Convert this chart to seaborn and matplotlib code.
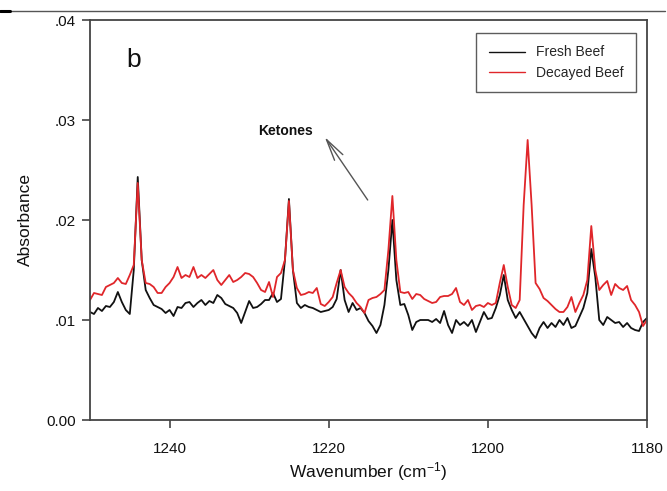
import numpy as np
import pandas as pd
import matplotlib
matplotlib.use("Agg")
import matplotlib.pyplot as plt
from matplotlib.lines import Line2D
import seaborn as sns

# ---- data ----
wavenumber = np.arange(1250.0, 1179.75, -0.5)

fresh_beef = [
    0.0108, 0.0106, 0.0112, 0.0109, 0.0114, 0.0113, 0.0118, 0.0128, 0.0118, 0.0110,
    0.0106, 0.0150, 0.0243, 0.0160, 0.0130, 0.0122, 0.0115, 0.0113, 0.0111, 0.0107,
    0.0110, 0.0104, 0.0113, 0.0112, 0.0117, 0.0118, 0.0113, 0.0117, 0.0120, 0.0115,
    0.0119, 0.0117, 0.0125, 0.0122, 0.0116, 0.0114, 0.0112, 0.0107, 0.0097, 0.0108,
    0.0119, 0.0112, 0.0113, 0.0116, 0.0120, 0.0120, 0.0127, 0.0118, 0.0121, 0.0160,
    0.0221, 0.0150, 0.0117, 0.0112, 0.0115, 0.0113, 0.0112, 0.0110, 0.0108, 0.0109,
    0.0110, 0.0113, 0.0121, 0.0150, 0.0120, 0.0108, 0.0117, 0.0110,
    0.0112, 0.0107, 0.0099, 0.0094, 0.0087, 0.0095, 0.0115, 0.0150, 0.0200, 0.0140,
    0.0115, 0.0116, 0.0105, 0.0090, 0.0098, 0.0100, 0.0100, 0.0100, 0.0098, 0.0101,
    0.0097, 0.0109, 0.0095, 0.0087, 0.0100, 0.0095, 0.0098, 0.0094, 0.0100, 0.0088,
    0.0098, 0.0108, 0.0101, 0.0102, 0.0112, 0.0125, 0.0145, 0.0120, 0.0110, 0.0102,
    0.0108, 0.0101, 0.0094, 0.0087, 0.0082, 0.0092, 0.0098, 0.0092, 0.0097, 0.0093,
    0.0100, 0.0095, 0.0102, 0.0092, 0.0094, 0.0103, 0.0112, 0.0127, 0.0171, 0.0143,
    0.0100, 0.0095, 0.0103, 0.0100, 0.0097, 0.0098, 0.0093, 0.0097, 0.0092, 0.0090,
    0.0089, 0.0098, 0.0102,
]

decayed_beef = [
    0.0120, 0.0127, 0.0126, 0.0125, 0.0133, 0.0135, 0.0137, 0.0142, 0.0137, 0.0136,
    0.0145, 0.0155, 0.0237, 0.0160, 0.0137, 0.0136, 0.0133, 0.0127, 0.0127, 0.0133,
    0.0137, 0.0143, 0.0153, 0.0142, 0.0145, 0.0143, 0.0153, 0.0142, 0.0145, 0.0142,
    0.0146, 0.0150, 0.0140, 0.0135, 0.0140, 0.0145, 0.0138, 0.0140, 0.0143, 0.0147,
    0.0146, 0.0143, 0.0137, 0.0130, 0.0128, 0.0138, 0.0123, 0.0143, 0.0147, 0.0160,
    0.0219, 0.0150, 0.0132, 0.0125, 0.0126, 0.0128, 0.0127, 0.0132, 0.0116, 0.0114,
    0.0118, 0.0123, 0.0137, 0.0150, 0.0133, 0.0127, 0.0123, 0.0117,
    0.0113, 0.0107, 0.0120, 0.0122, 0.0123, 0.0126, 0.0130, 0.0170, 0.0224, 0.0160,
    0.0128, 0.0127, 0.0128, 0.0121, 0.0126, 0.0125, 0.0121, 0.0119, 0.0117, 0.0118,
    0.0123, 0.0124, 0.0124, 0.0126, 0.0132, 0.0118, 0.0115, 0.0120, 0.0110, 0.0114,
    0.0115, 0.0113, 0.0117, 0.0115, 0.0117, 0.0137, 0.0155, 0.0133, 0.0115, 0.0112,
    0.0120, 0.0215, 0.0280, 0.0215, 0.0137, 0.0131, 0.0122, 0.0119, 0.0115, 0.0111,
    0.0108, 0.0108, 0.0113, 0.0123, 0.0108, 0.0117, 0.0125, 0.0140, 0.0194, 0.0150,
    0.0130, 0.0135, 0.0139, 0.0125, 0.0136, 0.0132, 0.0130, 0.0134, 0.0120, 0.0115,
    0.0108, 0.0094, 0.0100,
]

series_names = ["Fresh Beef", "Decayed Beef"]
series_colors = ["#111111", "#e0262a"]
x_ticks = [1240, 1220, 1200, 1180]
y_ticks = [0.0, 0.01, 0.02, 0.03, 0.04]
y_tick_labels = ["0.00", ".01", ".02", ".03", ".04"]

df = pd.concat([
    pd.DataFrame({"Wavenumber": wavenumber, "Absorbance": fresh_beef, "Sample": series_names[0]}),
    pd.DataFrame({"Wavenumber": wavenumber, "Absorbance": decayed_beef, "Sample": series_names[1]}),
], ignore_index=True)

# ---- style ----
sns.set_style("ticks")
plt.rcParams["font.family"] = ["Liberation Sans", "DejaVu Sans"]
plt.rcParams["mathtext.default"] = "regular"

fig = plt.figure(figsize=(6.67, 4.91), dpi=100)
ax = fig.add_axes([90 / 667, 1 - 420 / 491, (647 - 90) / 667, 400 / 491])

sns.lineplot(data=df, x="Wavenumber", y="Absorbance", hue="Sample",
             palette=dict(zip(series_names, series_colors)),
             sort=False, estimator=None, linewidth=1.3, ax=ax)
for ln in ax.get_lines():
    ln.set_solid_joinstyle("round")

ax.set_xlim(1250, 1180)
ax.set_ylim(0, 0.04)
ax.set_xticks(x_ticks)
ax.set_xticklabels([str(t) for t in x_ticks])
ax.set_yticks(y_ticks)
ax.set_yticklabels(y_tick_labels)

spine_col = "#444444"
for s in ax.spines.values():
    s.set_visible(True)
    s.set_color(spine_col)
    s.set_linewidth(1.3)
ax.tick_params(axis="both", direction="out", length=6, width=1.2, color=spine_col,
               labelsize=11, labelcolor="#111111", pad=4)
ax.tick_params(axis="x", pad=10)

ax.set_xlabel("Wavenumber (cm$^{-1}$)", fontsize=12.5, labelpad=3, color="#111111")
ax.set_ylabel("Absorbance", fontsize=12.5, labelpad=10, color="#111111")

leg = ax.legend(loc="upper right", bbox_to_anchor=(636 / 667, 1 - 33 / 491),
                bbox_transform=fig.transFigure, frameon=True, fancybox=False,
                fontsize=10, handlelength=2.6, borderpad=0.9, labelspacing=0.45,
                handletextpad=0.8, borderaxespad=0)
leg.get_frame().set_edgecolor("#333333")
leg.get_frame().set_linewidth(1.0)
for line in leg.get_lines():
    line.set_linewidth(1.0)

ax.text(0.066, 0.883, "b", transform=ax.transAxes, fontsize=19, va="baseline", ha="left",
        color="#111111")
ax.text(1228.9, 0.0285, "Ketones", fontsize=10, fontweight="bold", va="baseline",
        ha="left", color="#111111")
ax.annotate("", xy=(1220.5, 0.0283), xytext=(1215.1, 0.0220),
            arrowprops=dict(arrowstyle="->,head_length=1.3,head_width=0.3",
                            color="#555555", lw=1.0, mutation_scale=12,
                            shrinkA=0, shrinkB=0))

# border line at top of image
fig.add_artist(Line2D([0, 665 / 667], [1 - 11 / 491] * 2, color="#555555", lw=1.0))
fig.add_artist(Line2D([0, 10 / 667], [1 - 11 / 491] * 2, color="#000000", lw=2.2))

fig.savefig("out.png", dpi=100)
